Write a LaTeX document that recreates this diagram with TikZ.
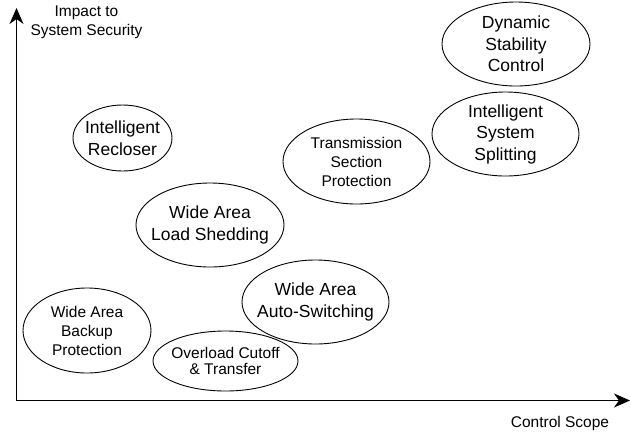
\documentclass[tikz,border=0pt]{standalone}
\usepackage{fontspec}
\setmainfont{Liberation Sans}
\usetikzlibrary{shapes.geometric,arrows.meta}
\tikzset{
  big/.style={font=\fontsize{17.5}{21.5}\selectfont, align=center, inner sep=0pt},
  small/.style={font=\fontsize{15.5}{19}\selectfont, align=center, inner sep=0pt},
  tight/.style={font=\fontsize{15.5}{15.6}\selectfont, align=center, inner sep=0pt},
  ell/.style={ellipse, draw, line width=0.9pt, inner sep=0pt},
  axis/.style={line width=1.1pt, -{Stealth[length=16pt,width=14pt,inset=5pt]}}
}
\begin{document}
\begin{tikzpicture}[x=1pt,y=-1pt]
\useasboundingbox (0,0) rectangle (630,432);
\coordinate (o) at (16.5,400.5);
\coordinate (ytip) at (16.5,8);
\coordinate (xtip) at (630,400.5);
\draw[axis] (o) -- (ytip);
\draw[axis] (o) -- (xtip);
\node[small] (ylab) at (86.5,22.5) {Impact to\\System Security};
\node[small] (xlab) at (560,423) {Control Scope};

\node[ell, minimum width=148pt, minimum height=84pt,
  label={[big]center:{Dynamic\\Stability\\Control}}] (dsc) at (516,44) {};
\node[ell, minimum width=147pt, minimum height=84pt,
  label={[big]center:{Intelligent\\System\\Splitting}}] (iss) at (505.5,134) {};
\node[ell, minimum width=147pt, minimum height=85pt,
  label={[small]center:{Transmission\\Section\\Protection}}] (tsp) at (356.5,161.5) {};
\node[ell, minimum width=147pt, minimum height=84pt,
  label={[big]center:{Wide Area\\Auto-Switching}}] (waas) at (315.5,302) {};
\node[ell, minimum width=148pt, minimum height=84pt,
  label={[big]center:{Wide Area\\Load Shedding}}] (wals) at (210,225) {};
\node[ell, minimum width=99pt, minimum height=66pt,
  label={[big]center:{Intelligent\\Recloser}}] (ir) at (122.5,138) {};
\node[ell, minimum width=128pt, minimum height=85pt,
  label={[small]center:{Wide Area\\Backup\\Protection}}] (wabp) at (87,330.5) {};
\node[ell, minimum width=145pt, minimum height=60pt,
  label={[tight]center:{Overload Cutoff\\\& Transfer}}] (oct) at (225.5,361) {};
\end{tikzpicture}
\end{document}
